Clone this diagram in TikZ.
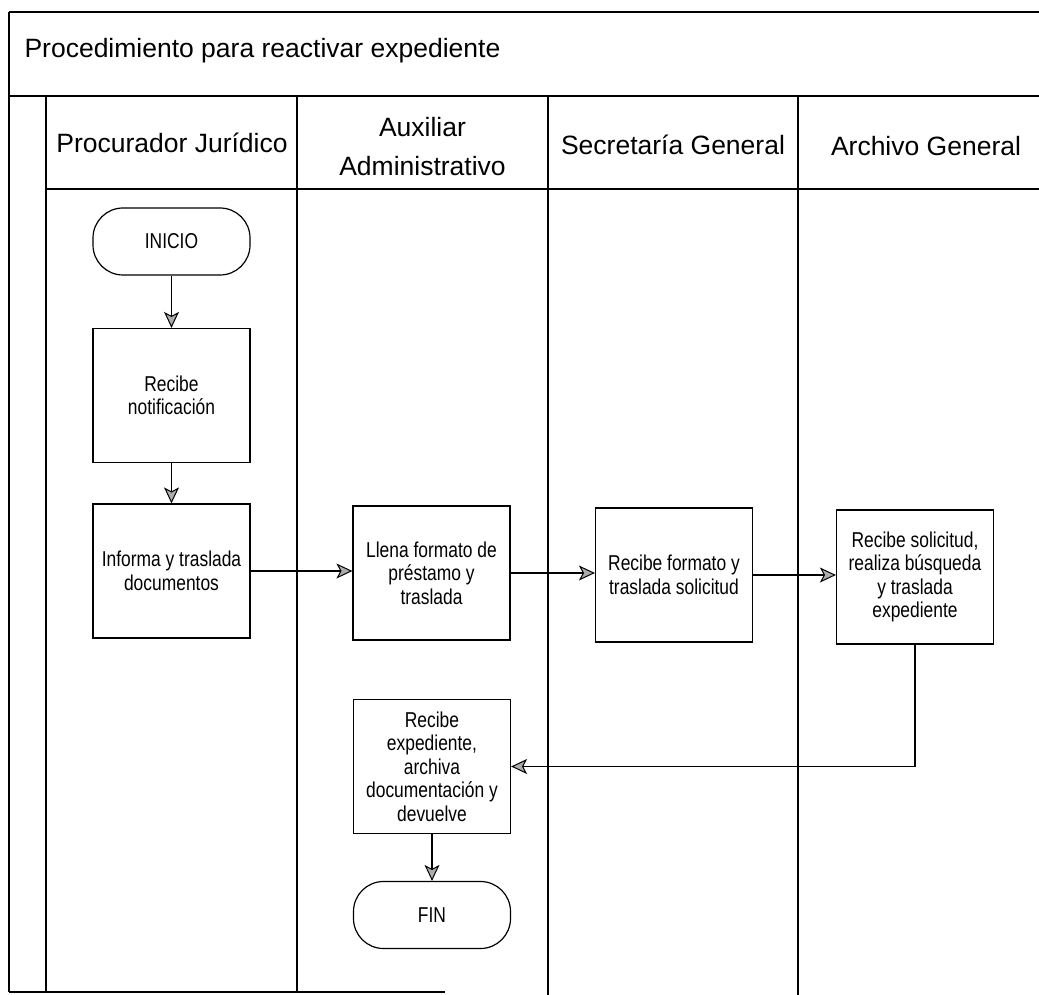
\documentclass[tikz,border=0pt]{standalone}
\usepackage{fontspec}
\setmainfont{Liberation Sans}
\newfontfamily\boxfont[FakeStretch=0.81]{Liberation Sans}
\usetikzlibrary{arrows.meta}

\begin{document}
\begin{tikzpicture}[
  x=1pt, y=-1pt,
  frame/.style={line width=1.6pt, black},
  stepbox/.style={draw, line width=1.2pt, minimum width=157pt, minimum height=134pt,
    align=center, inner sep=3pt, font=\boxfont\fontsize{21.5}{23.5}\selectfont},
  terminal/.style={stepbox, minimum height=67pt, rounded corners=30pt},
  flow/.style={line width=1.4pt,
    -{Stealth[length=16pt, width=15pt, inset=4pt, fill=gray!65, line width=1pt]}},
  lanehead/.style={align=center, font=\fontsize{26.5}{39}\selectfont}
]
\useasboundingbox (0,0) rectangle (1039,995);

% pool frame and swimlanes
\draw[frame] (9,12) -- (1039,12);
\draw[frame] (9,12) -- (9,992);
\draw[frame] (9,96) -- (1039,96);
\draw[frame] (46,96) -- (46,992);
\draw[frame] (46,189) -- (1039,189);
\draw[frame] (297,96) -- (297,992);
\draw[frame] (548,96) -- (548,995);
\draw[frame] (798,96) -- (798,995);
\draw[frame] (9,992) -- (445,992);

% title and lane headers
\node[anchor=base west, font=\fontsize{26.5}{30}\selectfont] (title) at (21,58)
  {Procedimiento para reactivar expediente};
\node[lanehead] (hproc) at (172,143) {Procurador Jurídico};
\node[lanehead] (haux)  at (422.5,147) {Auxiliar\\Administrativo};
\node[lanehead] (hsec)  at (673,145) {Secretaría General};
\node[lanehead] (harch) at (926,146) {Archivo General};

% process steps
\node[terminal] (inicio)    at (171.5,241.5) {INICIO};
\node[stepbox]  (notif)     at (171.5,395.5) {Recibe\\notificación};
\node[stepbox]  (informa)   at (171.5,571)   {Informa y traslada\\documentos};
\node[stepbox]  (llena)     at (431.5,573)   {Llena formato de\\préstamo y\\traslada};
\node[stepbox]  (formato)   at (674,575)     {Recibe formato y\\traslada solicitud};
\node[stepbox]  (solicitud) at (915,577)     {Recibe solicitud,\\realiza búsqueda\\y traslada\\expediente};
\node[stepbox]  (recexp)    at (432,766.5)   {Recibe\\expediente,\\archiva\\documentación y\\devuelve};
\node[terminal] (fin)       at (432,915)     {FIN};

% connectors
\draw[flow] (inicio) -- (notif);
\draw[flow] (notif) -- (informa);
\draw[flow] (informa.east) -- (informa.east -| llena.west);
\draw[flow] (llena.east) -- (llena.east -| formato.west);
\draw[flow] (formato.east) -- (formato.east -| solicitud.west);
\draw[flow] (solicitud.south) |- (recexp.east);
\draw[flow] (recexp) -- (fin);
\end{tikzpicture}
\end{document}
